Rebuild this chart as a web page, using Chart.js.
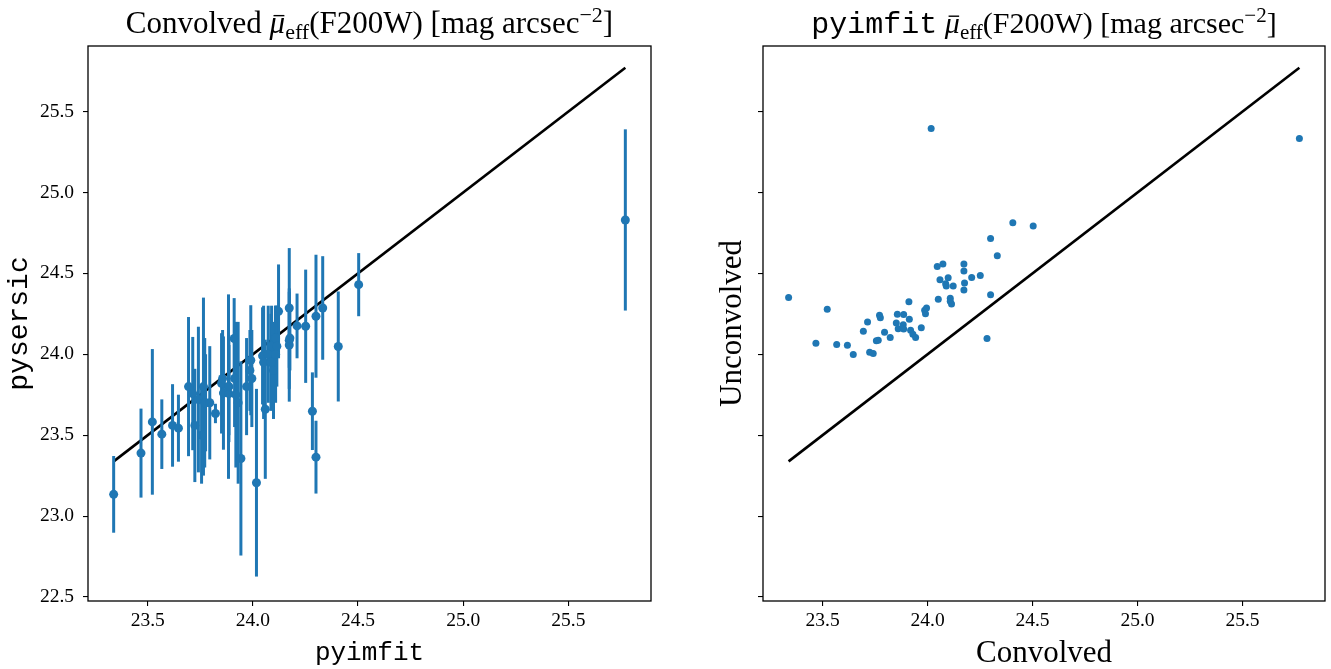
<!DOCTYPE html>
<html>
<head>
<meta charset="utf-8">
<script src="https://cdn.jsdelivr.net/npm/chart.js@4.4.1/dist/chart.umd.min.js"></script>
<style>
  html, body { margin: 0; padding: 0; background: #fff; }
  #wrap { position: relative; width: 1331px; height: 669px; }
  .panel { position: absolute; top: 0; }
  #left { left: 0; }
  #right { left: 665px; }
</style>
</head>
<body>
<div id="wrap">
  <div class="panel" id="left"><canvas id="c1" width="665" height="669"></canvas></div>
  <div class="panel" id="right"><canvas id="c2" width="666" height="669"></canvas></div>
</div>
<script>
// convolved (pyimfit) surface brightness, shared by both panels
const convolved = [23.338, 23.468, 23.522, 23.567, 23.618, 23.646, 23.694, 23.714, 23.724, 23.741,
  23.756, 23.765, 23.771, 23.775, 23.795, 23.822, 23.851, 23.856, 23.860, 23.884,
  23.886, 23.886, 23.911, 23.913, 23.919, 23.930, 23.943, 23.970, 23.986, 23.990,
  23.995, 24.017, 24.046, 24.051, 24.059, 24.073, 24.086, 24.089, 24.098, 24.108,
  24.108, 24.114, 24.122, 24.173, 24.173, 24.173, 24.176, 24.210, 24.251, 24.283,
  24.300, 24.300, 24.332, 24.406, 24.503, 25.771];

const pysersic = [23.134, 23.389, 23.582, 23.506, 23.560, 23.543, 23.800, 23.757, 23.560, 23.720,
  23.500, 23.800, 23.700, 23.700, 23.700, 23.634, 23.820, 23.850, 23.760, 23.800,
  23.757, 23.800, 24.097, 23.850, 23.750, 23.700, 23.356, 23.800, 23.900, 23.963,
  23.850, 23.206, 23.990, 23.950, 23.660, 24.000, 23.950, 24.050, 23.900, 24.000,
  24.100, 24.050, 24.265, 24.286, 24.086, 24.057, 24.100, 24.175, 24.173, 23.648,
  24.235, 23.364, 24.286, 24.048, 24.430, 24.830];

const pysersicErr = [0.237, 0.275, 0.450, 0.215, 0.255, 0.207, 0.430, 0.350, 0.350, 0.450,
  0.300, 0.550, 0.400, 0.300, 0.350, 0.060, 0.310, 0.300, 0.350, 0.570,
  0.300, 0.300, 0.250, 0.300, 0.450, 0.500, 0.600, 0.300, 0.250, 0.340,
  0.300, 0.580, 0.300, 0.350, 0.430, 0.300, 0.300, 0.250, 0.300, 0.300,
  0.200, 0.250, 0.290, 0.370, 0.300, 0.350, 0.200, 0.200, 0.350, 0.240,
  0.380, 0.225, 0.320, 0.340, 0.195, 0.560];

const unconvolved = [24.350, 24.068, 24.278, 24.060, 24.056, 23.998, 24.142, 24.200, 24.012, 24.004,
  24.084, 24.086, 24.241, 24.226, 24.136, 24.103, 24.193, 24.247, 24.158, 24.183,
  24.245, 24.156, 24.325, 24.216, 24.148, 24.123, 24.103, 24.163, 24.272, 24.251,
  24.286, 25.395, 24.543, 24.340, 24.461, 24.557, 24.436, 24.422, 24.473, 24.346,
  24.327, 24.311, 24.422, 24.557, 24.514, 24.397, 24.440, 24.475, 24.486, 24.097,
  24.716, 24.368, 24.609, 24.813, 24.792, 25.333];

const xTicks = [23.5, 24.0, 24.5, 25.0, 25.5];
const yTicks = [22.5, 23.0, 23.5, 24.0, 24.5, 25.0, 25.5];
const xRange = [23.216, 25.893];
const yRange = [22.475, 25.905];

const SERIF = "'Liberation Serif', 'DejaVu Serif', serif";
const MONO = "'Liberation Mono', 'DejaVu Sans Mono', monospace";
const BLUE = '#1f77b4';

Chart.defaults.animation = false;
Chart.defaults.events = [];

// one-to-one line from the smallest to the largest convolved value
const lo = Math.min(...convolved);
const hi = Math.max(...convolved);
const oneToOne = () => [{x: lo, y: lo}, {x: hi, y: hi}];

// vertical error bars, drawn under the markers of the dataset that has yErr
const errorBars = {
  id: 'errorBars',
  beforeDatasetDraw(chart, args) {
    const ds = chart.data.datasets[args.index];
    if (!ds.yErr) return;
    const {ctx, chartArea, scales: {x, y}} = chart;
    ctx.save();
    ctx.beginPath();
    ctx.rect(chartArea.left, chartArea.top, chartArea.width, chartArea.height);
    ctx.clip();
    ctx.strokeStyle = ds.backgroundColor;
    ctx.lineWidth = 3;
    ds.data.forEach((p, i) => {
      const px = x.getPixelForValue(p.x);
      ctx.beginPath();
      ctx.moveTo(px, y.getPixelForValue(p.y - ds.yErr[i]));
      ctx.lineTo(px, y.getPixelForValue(p.y + ds.yErr[i]));
      ctx.stroke();
    });
    ctx.restore();
  }
};

// box around the plot area
const frame = {
  id: 'frame',
  afterDraw(chart) {
    const {ctx, chartArea: a} = chart;
    ctx.save();
    ctx.strokeStyle = '#000';
    ctx.lineWidth = 1.3;
    ctx.strokeRect(a.left, a.top, a.width, a.height);
    ctx.restore();
  }
};

// title with sub/superscripts, centred over the plot area
function mathTitle(parts, size, baseline) {
  return {
    id: 'mathTitle',
    afterDraw(chart) {
      const {ctx, chartArea: a} = chart;
      const fontOf = p => {
        const s = p.shift ? Math.round(size * 0.7) : size;
        const fam = p.mono ? MONO : SERIF;
        return (p.italic ? 'italic ' : '') + s + 'px ' + fam;
      };
      ctx.save();
      ctx.fillStyle = '#000';
      ctx.strokeStyle = '#000';
      ctx.textAlign = 'left';
      ctx.textBaseline = 'alphabetic';
      const widths = parts.map(p => { ctx.font = fontOf(p); return ctx.measureText(p.t).width; });
      const total = widths.reduce((s, w) => s + w, 0);
      let cx = (a.left + a.right) / 2 - total / 2;
      parts.forEach((p, i) => {
        ctx.font = fontOf(p);
        let dy = 0;
        if (p.shift === 'sub') dy = size * 0.2;
        if (p.shift === 'sup') dy = -size * 0.36;
        ctx.fillText(p.t, cx, baseline + dy);
        if (p.bar) {
          ctx.lineWidth = 1.4;
          ctx.beginPath();
          ctx.moveTo(cx + widths[i] * 0.25, baseline - size * 0.56);
          ctx.lineTo(cx + widths[i] * 0.95, baseline - size * 0.56);
          ctx.stroke();
        }
        cx += widths[i];
      });
      ctx.restore();
    }
  };
}

const titleTail = [
  {t: '\u03bc', italic: true, bar: true},
  {t: 'eff', shift: 'sub'},
  {t: '(F200W) [mag arcsec'},
  {t: '\u22122', shift: 'sup'},
  {t: ']'}
];

function axisX(title, titleFont) {
  return {
    type: 'linear', min: xRange[0], max: xRange[1],
    afterBuildTicks: s => { s.ticks = xTicks.map(v => ({value: v})); },
    afterFit: s => { s.height = 68; },
    border: {display: false},
    grid: {drawOnChartArea: false, drawTicks: true, tickLength: 5, color: '#000', lineWidth: 1.1},
    ticks: {font: {family: SERIF, size: 19.5}, color: '#000', padding: 3, maxRotation: 0,
      callback: v => v.toFixed(1)},
    title: {display: true, text: title, color: '#000', font: titleFont, padding: {top: 0, bottom: 0}}
  };
}

function axisY(width, showLabels, title, titleFont, titlePad) {
  return {
    type: 'linear', min: yRange[0], max: yRange[1],
    afterBuildTicks: s => { s.ticks = yTicks.map(v => ({value: v})); },
    afterFit: s => { s.width = width; },
    border: {display: false},
    grid: {drawOnChartArea: false, drawTicks: true, tickLength: 5, color: '#000', lineWidth: 1.1},
    ticks: {font: {family: SERIF, size: 19.5}, color: showLabels ? '#000' : 'rgba(0,0,0,0)', padding: 9,
      callback: v => v.toFixed(1)},
    title: {display: true, text: title, color: '#000', font: titleFont, padding: {top: titlePad, bottom: 0}}
  };
}

function lineSet() {
  return {
    type: 'scatter', data: oneToOne(), showLine: true, borderColor: '#000', borderWidth: 2.6,
    pointRadius: 0, order: 2
  };
}

new Chart(document.getElementById('c1'), {
  type: 'scatter',
  data: {
    datasets: [
      {data: convolved.map((v, i) => ({x: v, y: pysersic[i]})), yErr: pysersicErr,
        backgroundColor: BLUE, borderWidth: 0, pointRadius: 4.5, order: 1},
      lineSet()
    ]
  },
  options: {
    responsive: false,
    layout: {padding: {top: 46, right: 14, left: 0, bottom: 0}},
    plugins: {legend: {display: false}, tooltip: {enabled: false}},
    scales: {
      x: axisX('pyimfit', {family: MONO, size: 26}),
      y: axisY(88, true, 'pysersic', {family: MONO, size: 28, lineHeight: 1}, 6)
    }
  },
  plugins: [errorBars, frame, mathTitle([{t: 'Convolved '}].concat(titleTail), 31, 33)]
});

new Chart(document.getElementById('c2'), {
  type: 'scatter',
  data: {
    datasets: [
      {data: convolved.map((v, i) => ({x: v, y: unconvolved[i]})),
        backgroundColor: BLUE, borderWidth: 0, pointRadius: 3.5, order: 1},
      lineSet()
    ]
  },
  options: {
    responsive: false,
    layout: {padding: {top: 46, right: 6, left: 0, bottom: 0}},
    plugins: {legend: {display: false}, tooltip: {enabled: false}},
    scales: {
      x: axisX('Convolved', {family: SERIF, size: 31, lineHeight: 1}),
      y: axisY(98, false, 'Unconvolved', {family: SERIF, size: 31, lineHeight: 1}, 52)
    }
  },
  plugins: [errorBars, frame, mathTitle([{t: 'pyimfit', mono: true}, {t: ' '}].concat(titleTail), 30, 33)]
});
</script>
</body>
</html>
